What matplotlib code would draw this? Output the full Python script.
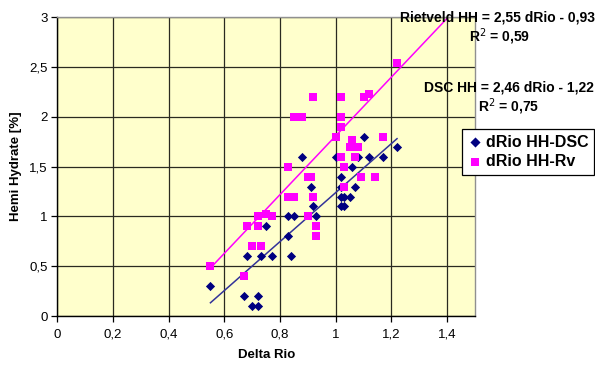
import matplotlib
matplotlib.use("Agg")
import matplotlib.pyplot as plt
import numpy as np

plt.rcParams['font.family'] = ['Liberation Sans', 'DejaVu Sans']

# DSC series (blue diamonds)
dsc_x = [0.55, 0.67, 0.72, 0.70, 0.72, 0.68, 0.73, 0.77, 0.84, 0.75, 0.83, 0.83, 0.85,
         0.88, 0.91, 0.92, 0.93, 1.00, 1.02, 1.02, 1.02, 1.03, 1.05, 1.02, 1.03, 1.06,
         1.07, 1.08, 1.10, 1.12, 1.17, 1.22]
dsc_y = [0.30, 0.20, 0.20, 0.10, 0.10, 0.60, 0.60, 0.60, 0.60, 0.90, 0.80, 1.00, 1.00,
         1.60, 1.30, 1.10, 1.00, 1.60, 1.40, 1.30, 1.20, 1.20, 1.20, 1.10, 1.10, 1.50,
         1.30, 1.60, 1.80, 1.60, 1.60, 1.70]

# Rietveld series (magenta squares)
rv_x = [0.55, 0.67, 0.70, 0.73, 0.68, 0.72, 0.72, 0.75, 0.77, 0.83, 0.85, 0.83, 0.85,
        0.88, 0.90, 0.91, 0.92, 0.90, 0.93, 0.93, 0.92, 1.02, 1.02, 1.02, 1.00, 1.02,
        1.03, 1.03, 1.06, 1.05, 1.08, 1.07, 1.09, 1.14, 1.17, 1.10, 1.12, 1.22]
rv_y = [0.50, 0.40, 0.70, 0.70, 0.90, 0.90, 1.00, 1.02, 1.00, 1.20, 1.20, 1.50, 2.00,
        2.00, 1.40, 1.40, 1.20, 1.00, 0.90, 0.80, 2.20, 2.20, 2.00, 1.90, 1.80, 1.60,
        1.50, 1.30, 1.77, 1.70, 1.70, 1.60, 1.40, 1.40, 1.80, 2.20, 2.23, 2.54]

# Trend lines as drawn (slope, intercept, x-range)
dsc_trend = (2.46, -1.22, 0.55, 1.22)
rv_trend = (2.95, -1.14, 0.55, 1.50)

x_ticks = [0, 0.2, 0.4, 0.6, 0.8, 1.0, 1.2, 1.4]
x_ticklabels = ['0', '0,2', '0,4', '0,6', '0,8', '1', '1,2', '1,4']
y_ticks = [0, 0.5, 1, 1.5, 2, 2.5, 3]
y_ticklabels = ['0', '0,5', '1', '1,5', '2', '2,5', '3']

fig = plt.figure(figsize=(5.95, 3.65), dpi=100)
ax = fig.add_axes([0.0963, 0.1342, 0.7020, 0.8184])
ax.set_facecolor('#FFFFCC')
ax.set_xlim(0, 1.5)
ax.set_ylim(0, 3)

ax.set_xticks(x_ticks)
ax.set_xticklabels(x_ticklabels)
ax.set_yticks(y_ticks)
ax.set_yticklabels(y_ticklabels)
ax.grid(True, color='#2a2a20', linewidth=0.9)
ax.set_axisbelow(True)
ax.tick_params(axis='both', direction='out', length=4, width=0.9, labelsize=9.5, color='black')
ax.tick_params(axis='x', pad=5)
ax.tick_params(axis='y', pad=3)

for s in ['left', 'bottom']:
    ax.spines[s].set_color('black')
    ax.spines[s].set_linewidth(1.0)
for s in ['top', 'right']:
    ax.spines[s].set_color('#909090')
    ax.spines[s].set_linewidth(1.0)

# trend lines
for (m, b, x0, x1), col in [(dsc_trend, '#333399'), (rv_trend, '#FF00FF')]:
    xs = np.array([x0, x1])
    ax.plot(xs, m * xs + b, color=col, linewidth=1.1, zorder=2, clip_on=True)

ax.scatter(dsc_x, dsc_y, marker='D', s=22, color='#000080', zorder=3, label='dRio HH-DSC',
           linewidths=0)
ax.scatter(rv_x, rv_y, marker='s', s=34, color='#FF00FF', zorder=3, label='dRio HH-Rv',
           linewidths=0)

ax.set_xlabel('Delta Rio', fontsize=9.5, fontweight='bold', labelpad=6)
ax.set_ylabel('Hemi Hydrate [%]', fontsize=9.5, fontweight='bold', labelpad=5)

fig.text(498 / 595, 1 - 18 / 365, 'Rietveld HH = 2,55 dRio - 0,93', ha='center', va='center',
         fontsize=10, fontweight='bold')
fig.text(499 / 595, 1 - 37 / 365, 'R$^2$ = 0,59', ha='center', va='center',
         fontsize=10, fontweight='bold')
fig.text(509 / 595, 1 - 88 / 365, 'DSC HH = 2,46 dRio - 1,22', ha='center', va='center',
         fontsize=10, fontweight='bold')
fig.text(509 / 595, 1 - 107 / 365, 'R$^2$ = 0,75', ha='center', va='center',
         fontsize=10, fontweight='bold')

leg = fig.legend(loc='upper left', bbox_to_anchor=(462 / 595, 1 - 129 / 365),
                 frameon=True, fancybox=False, edgecolor='black', framealpha=1,
                 prop={'weight': 'bold', 'size': 11.5}, handletextpad=0.25,
                 borderpad=0.35, labelspacing=0.3, handlelength=0.9, borderaxespad=0,
                 markerscale=1.1)
leg.get_frame().set_linewidth(0.9)

fig.savefig('out.png', dpi=100)
